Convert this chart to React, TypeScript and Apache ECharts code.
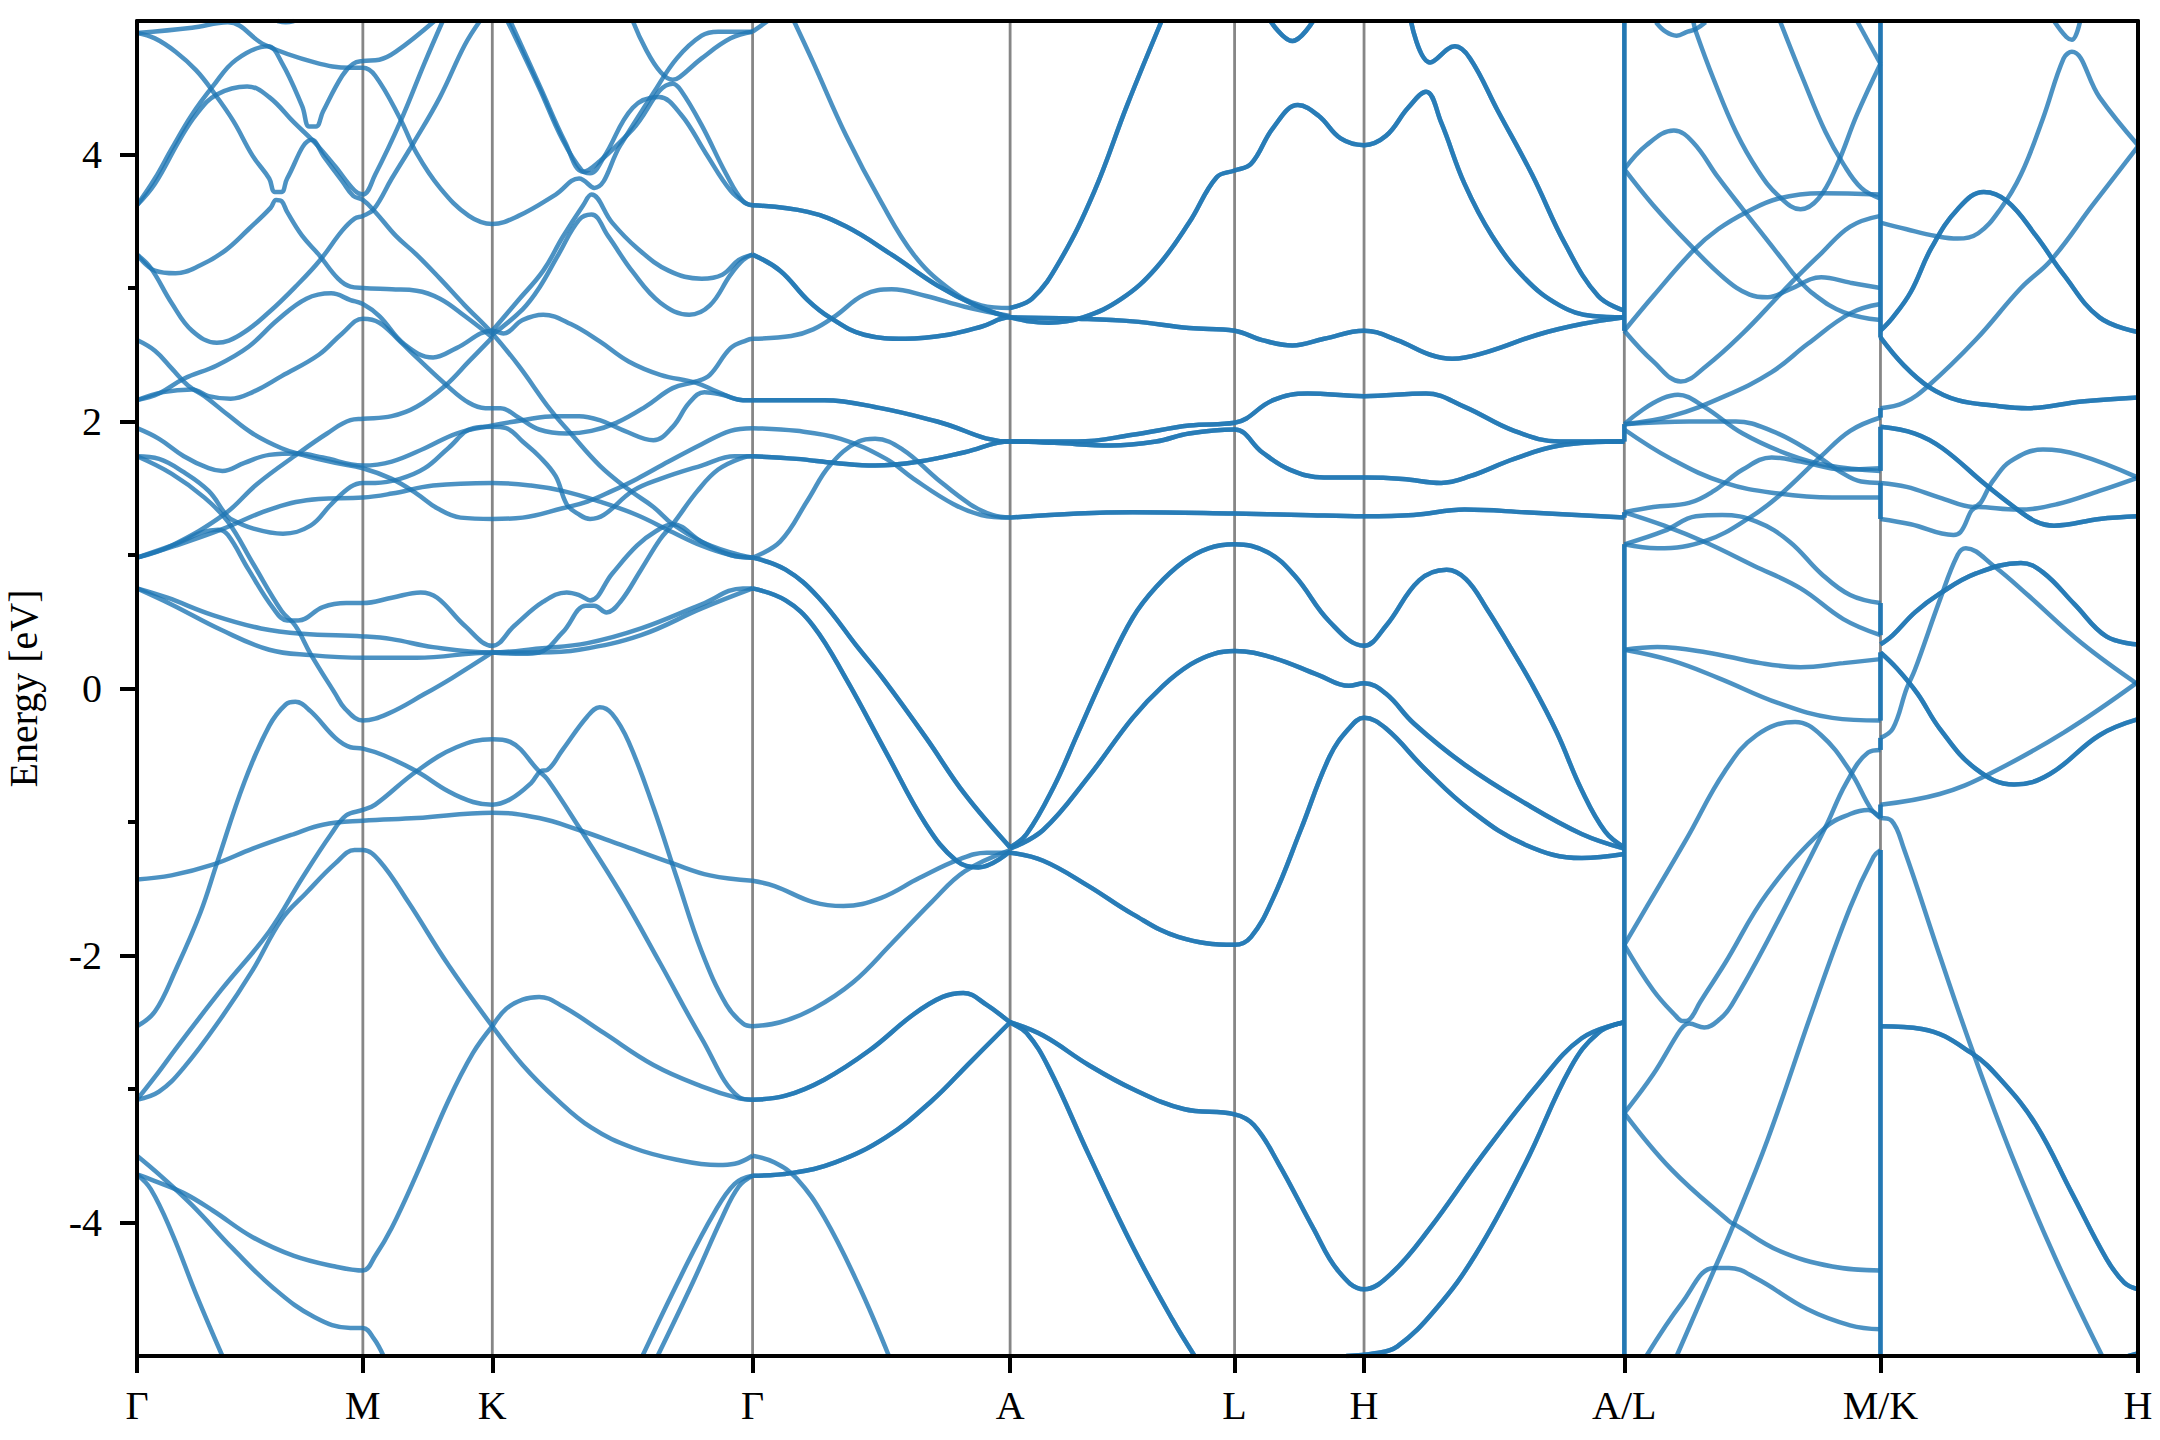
import React, { useEffect, useRef } from "react";
import * as echarts from "echarts";

type Pt = [number, number];

const kPoints = [0, 164, 258, 447, 634, 797, 891, 1080, 1266, 1453];
const kNames = ["Γ", "M", "K", "Γ", "A", "L", "H", "A/L", "M/K", "H"];
const majorTicks = [-4, -2, 0, 2, 4];
const minorTicks = [-3, -1, 1, 3];

// Γ–M–K–Γ
const a1: Pt[] = [[0,4.91],[40,4.95],[66,4.99],[93,4.82],[129,4.69],[155,4.65],[164,4.65],[173,4.59],[191,4.27],[203,4.01],[220,3.75],[241,3.54],[258,3.48],[277,3.54],[304,3.70],[321,3.82],[332,3.75],[351,4.07],[375,4.46],[392,4.72],[410,4.89],[422,4.92],[447,4.92]];
const a2: Pt[] = [[0,3.62],[13,3.82],[25,4.04],[40,4.30],[55,4.51],[72,4.71],[95,4.81],[105,4.69],[120,4.36],[125,4.21],[130,4.21],[135,4.32],[149,4.59],[157,4.68],[164,4.70],[176,4.71],[188,4.77],[216,5.0]];
const a3: Pt[] = [[0,4.91],[13,4.87],[28,4.77],[43,4.63],[56,4.46],[70,4.25],[84,3.99],[96,3.82],[100,3.72],[105,3.72],[109,3.82],[127,4.11],[136,3.98],[149,3.80],[157,3.69],[164,3.66],[173,3.57],[188,3.39],[203,3.25],[220,3.07],[238,2.87],[258,2.66],[277,2.42],[300,2.09],[315,1.91],[336,1.67],[357,1.49],[375,1.36],[389,1.23],[410,1.10],[431,1.02],[447,0.98]];
const a4: Pt[] = [[0,3.62],[13,3.78],[31,4.11],[43,4.30],[58,4.45],[80,4.51],[96,4.43],[114,4.24],[129,4.09],[144,3.91],[158,3.73],[164,3.70],[173,3.85],[191,4.24],[209,4.69],[222,5.0]];
const a5: Pt[] = [[0,3.25],[13,3.13],[28,3.11],[46,3.17],[64,3.28],[81,3.44],[97,3.60],[101,3.66],[105,3.65],[109,3.57],[120,3.39],[132,3.25],[146,3.07],[155,3.01],[164,3.00],[185,2.99],[203,2.98],[220,2.92],[238,2.79],[258,2.63]];
const a6: Pt[] = [[258,2.68],[277,2.91],[295,3.13],[309,3.38],[324,3.62],[330,3.70],[345,3.49],[363,3.30],[386,3.13],[410,3.07],[425,3.10],[437,3.21],[447,3.25]];
const a7: Pt[] = [[258,2.65],[280,2.84],[292,3.0],[306,3.25],[321,3.51],[330,3.55],[342,3.39],[360,3.12],[380,2.89],[401,2.8],[416,2.87],[431,3.10],[440,3.21],[447,3.25]];
const a8: Pt[] = [[0,3.25],[10,3.15],[25,2.89],[40,2.68],[58,2.59],[75,2.65],[96,2.82],[117,3.03],[133,3.21],[149,3.43],[158,3.52],[164,3.54],[172,3.59],[185,3.82],[201,4.09],[220,4.43],[238,4.82],[249,5.0]];
const a9: Pt[] = [[0,2.61],[13,2.53],[25,2.40],[37,2.27],[49,2.19],[66,2.05],[84,1.91],[105,1.80],[120,1.75],[144,1.69],[164,1.65],[185,1.57],[203,1.46],[218,1.35],[235,1.28],[258,1.27],[280,1.28],[309,1.35],[327,1.40],[345,1.48],[363,1.57],[386,1.70],[410,1.83],[431,1.93],[447,1.95]];
const a10: Pt[] = [[0,2.16],[19,2.22],[40,2.24],[52,2.19],[68,2.17],[84,2.22],[105,2.34],[132,2.50],[149,2.66],[164,2.77],[176,2.74],[191,2.60],[203,2.48],[225,2.27],[241,2.14],[253,2.10],[264,2.10],[277,2.03],[292,1.94],[312,1.91],[330,1.93],[348,1.99],[369,2.11],[389,2.25],[406,2.30],[416,2.35],[431,2.55],[443,2.61],[447,2.62]];
const a11: Pt[] = [[0,2.16],[16,2.21],[34,2.32],[58,2.42],[81,2.56],[102,2.76],[123,2.92],[141,2.96],[155,2.91],[164,2.88],[176,2.79],[194,2.58],[215,2.48],[232,2.55],[258,2.68],[266,2.66],[280,2.76],[295,2.8],[315,2.73],[336,2.60],[357,2.45],[380,2.35],[406,2.29],[422,2.22],[440,2.16],[447,2.16]];
const a12: Pt[] = [[0,1.95],[16,1.87],[34,1.74],[52,1.65],[62,1.63],[78,1.69],[96,1.75],[117,1.76],[135,1.73],[164,1.67],[185,1.70],[209,1.8],[232,1.91],[258,1.97],[280,2.01],[304,2.04],[321,2.04],[336,2.01],[354,1.93],[375,1.86],[389,1.96],[401,2.14],[412,2.22],[425,2.2],[440,2.16],[447,2.16]];
const a13: Pt[] = [[0,1.74],[16,1.72],[34,1.62],[52,1.48],[64,1.31],[68,1.27],[84,1.20],[106,1.16],[126,1.22],[141,1.38],[155,1.51],[164,1.54],[173,1.54],[191,1.57],[209,1.65],[226,1.80],[244,1.95],[258,1.96],[268,1.95],[280,1.85],[292,1.74],[304,1.59],[312,1.38],[320,1.31],[329,1.27],[339,1.30],[360,1.48],[380,1.57],[410,1.67],[434,1.74],[447,1.74]];
const a14: Pt[] = [[0,0.98],[25,1.07],[64,1.31],[87,1.53],[117,1.76],[138,1.91],[155,2.01],[164,2.02],[185,2.04],[203,2.11],[224,2.27],[241,2.45],[258,2.63]];
const a15: Pt[] = [[0,1.74],[25,1.61],[49,1.43],[66,1.25],[84,0.94],[105,0.58],[115,0.47],[126,0.26],[144,-0.04],[151,-0.15],[164,-0.24],[182,-0.19],[209,-0.04],[229,0.08],[258,0.27]];
const a16: Pt[] = [[0,0.98],[25,1.07],[59,1.19],[66,1.15],[81,0.89],[99,0.6],[109,0.51],[117,0.51],[135,0.61],[152,0.64],[164,0.64],[185,0.68],[206,0.72],[218,0.68],[238,0.47],[258,0.32],[274,0.47],[295,0.65],[312,0.72],[321,0.70],[329,0.66],[345,0.86],[363,1.07],[377,1.18],[389,1.23],[410,1.10],[431,1.0],[447,0.98]];
const a17: Pt[] = [[258,0.27],[280,0.26],[292,0.27],[309,0.42],[326,0.62],[332,0.62],[341,0.57],[351,0.65],[366,0.89],[380,1.12],[389,1.23],[407,1.48],[422,1.64],[440,1.73],[447,1.74]];
const a18: Pt[] = [[0,0.98],[28,1.07],[61,1.19],[99,1.35],[132,1.42],[164,1.43],[185,1.46],[215,1.52],[258,1.54],[286,1.52],[309,1.48],[336,1.40],[363,1.30],[389,1.17],[410,1.07],[431,1.0],[447,0.98]];
const a19: Pt[] = [[0,0.75],[22,0.68],[55,0.55],[90,0.45],[120,0.41],[164,0.39],[185,0.37],[215,0.31],[258,0.27],[292,0.30],[327,0.34],[366,0.45],[410,0.63],[440,0.75],[447,0.75]];
const a20: Pt[] = [[0,0.75],[25,0.63],[61,0.44],[96,0.29],[126,0.25],[164,0.23],[203,0.23],[258,0.27],[292,0.27],[321,0.29],[366,0.40],[410,0.6],[447,0.75]];
const a21: Pt[] = [[0,-2.53],[13,-2.42],[28,-2.11],[46,-1.68],[58,-1.31],[78,-0.70],[96,-0.28],[108,-0.12],[115,-0.10],[126,-0.17],[144,-0.37],[155,-0.44],[164,-0.45],[179,-0.50],[203,-0.62],[226,-0.77],[244,-0.85],[258,-0.87],[271,-0.83],[286,-0.71],[293,-0.62],[298,-0.61],[309,-0.46],[327,-0.21],[336,-0.14],[345,-0.19],[357,-0.40],[375,-0.89],[392,-1.42],[410,-1.97],[428,-2.37],[440,-2.51],[447,-2.53]];
const a22: Pt[] = [[0,-1.43],[25,-1.40],[55,-1.32],[84,-1.20],[114,-1.09],[135,-1.02],[164,-0.99],[203,-0.97],[258,-0.93],[292,-0.97],[321,-1.06],[351,-1.17],[389,-1.31],[416,-1.40],[447,-1.44]];
const a23: Pt[] = [[0,-3.08],[13,-2.91],[31,-2.66],[61,-2.26],[96,-1.82],[120,-1.42],[141,-1.09],[152,-0.95],[164,-0.91],[173,-0.87],[203,-0.62],[232,-0.44],[258,-0.38],[271,-0.40],[292,-0.62],[298,-0.68],[321,-1.04],[351,-1.53],[380,-2.06],[410,-2.62],[437,-3.06],[447,-3.08]];
const a24: Pt[] = [[0,-3.08],[16,-3.02],[34,-2.84],[61,-2.47],[84,-2.11],[105,-1.73],[123,-1.53],[144,-1.31],[158,-1.21],[164,-1.21],[176,-1.29],[197,-1.60],[226,-2.07],[258,-2.53],[280,-2.82],[304,-3.07],[330,-3.29],[360,-3.44],[392,-3.53],[422,-3.57],[434,-3.56],[447,-3.50]];
const a25: Pt[] = [[258,-2.53],[268,-2.40],[280,-2.33],[292,-2.31],[309,-2.38],[339,-2.58],[375,-2.82],[410,-2.98],[437,-3.07],[447,-3.08]];
const a26: Pt[] = [[0,-3.64],[13,-3.69],[34,-3.78],[55,-3.91],[84,-4.11],[114,-4.25],[144,-4.33],[164,-4.36],[173,-4.25],[185,-4.04],[203,-3.64],[226,-3.09],[244,-2.73],[258,-2.53]];
const a27: Pt[] = [[0,-3.50],[16,-3.64],[40,-3.87],[70,-4.20],[99,-4.49],[129,-4.71],[155,-4.79],[164,-4.79],[172,-4.87],[179,-5.0]];
const a28: Pt[] = [[0,-3.64],[10,-3.75],[25,-4.07],[43,-4.54],[62,-5.0]];
const a29: Pt[] = [[367,-5],[395,-4.40],[419,-3.93],[434,-3.71],[447,-3.65]];
const a30: Pt[] = [[378,-5],[404,-4.44],[425,-3.96],[437,-3.73],[447,-3.65]];
const a31: Pt[] = [[269,5.0],[292,4.50],[309,4.11],[323,3.88],[329,3.86],[339,3.98],[360,4.35],[379,4.43],[395,4.30],[413,4.01],[431,3.73],[443,3.63],[447,3.62]];
const a32: Pt[] = [[271,5],[293,4.5],[311,4.09],[324,3.87],[336,3.95],[360,4.19],[389,4.53],[395,4.48],[410,4.22],[428,3.85],[440,3.65],[447,3.62]];
const a33: Pt[] = [[360,5],[389,4.56],[394,4.58],[410,4.72],[431,4.87],[447,4.92]];
const a34: Pt[] = [[102,5.0],[108,4.99],[114,5]];

// Γ–A–L–H–A, single lines
const b1: Pt[] = [[447,4.92],[458,5.0]];
const b2: Pt[] = [[477,5.0],[491,4.69],[515,4.14],[540,3.65],[564,3.25],[589,3.0],[613,2.87],[634,2.85]];
const b3: Pt[] = [[447,2.62],[475,2.64],[491,2.69],[507,2.79],[528,2.95],[548,2.99],[573,2.94],[601,2.86],[634,2.79]];
const b4: Pt[] = [[447,1.95],[479,1.93],[511,1.87],[544,1.72],[564,1.57],[593,1.38],[613,1.30],[634,1.28]];
const b5: Pt[] = [[447,0.98],[467,1.10],[487,1.41],[503,1.67],[524,1.85],[536,1.87],[556,1.79],[581,1.57],[605,1.38],[621,1.30],[634,1.28]];
const b6: Pt[] = [[447,-1.44],[463,-1.48],[491,-1.60],[513,-1.63],[540,-1.57],[568,-1.42],[597,-1.28],[617,-1.23],[634,-1.23]];
const b7: Pt[] = [[447,-2.53],[467,-2.50],[491,-2.40],[520,-2.20],[548,-1.91],[577,-1.60],[601,-1.37],[634,-1.21]];
const b8: Pt[] = [[447,-3.50],[463,-3.55],[479,-3.67],[499,-3.96],[524,-4.47],[546,-5.0]];

// Γ–A–L–H–A, lines that lie on top of each other
const c1: Pt[] = [[634,2.85],[650,2.92],[670,3.2],[695,3.72],[719,4.37],[744,5]];
const c2: Pt[] = [[447,3.62],[487,3.57],[515,3.46],[548,3.25],[581,3.02],[609,2.87],[634,2.78],[662,2.74],[687,2.78],[715,2.92],[740,3.15],[764,3.49],[784,3.83],[797,3.88],[809,3.93],[825,4.2],[843,4.37],[858,4.29],[874,4.12],[891,4.07],[907,4.14],[923,4.35],[936,4.47],[947,4.24],[964,3.78],[984,3.39],[1008,3.07],[1033,2.87],[1057,2.79],[1080,2.78]];
const c3: Pt[] = [[447,3.25],[467,3.13],[487,2.91],[503,2.78],[528,2.65],[558,2.62],[589,2.65],[613,2.71],[634,2.78],[683,2.77],[723,2.75],[764,2.70],[797,2.68],[817,2.61],[839,2.57],[862,2.62],[891,2.68],[915,2.61],[939,2.50],[955,2.47],[980,2.52],[1017,2.65],[1049,2.73],[1080,2.78]];
const c4: Pt[] = [[823,5],[839,4.85],[854,5]];
const c5: Pt[] = [[925,5],[939,4.69],[957,4.81],[968,4.72],[988,4.33],[1013,3.85],[1037,3.33],[1061,2.94],[1080,2.83]];
const c6: Pt[] = [[447,2.16],[499,2.16],[540,2.10],[581,2.0],[634,1.85],[683,1.85],[723,1.90],[764,1.97],[797,1.99],[825,2.16],[850,2.21],[891,2.19],[936,2.21],[964,2.11],[1000,1.93],[1033,1.85],[1080,1.85]];
const c7: Pt[] = [[447,1.74],[479,1.72],[507,1.69],[536,1.67],[568,1.70],[601,1.77],[634,1.85],[666,1.84],[707,1.82],[740,1.85],[764,1.91],[797,1.94],[817,1.77],[837,1.64],[862,1.58],[891,1.58],[919,1.57],[947,1.54],[968,1.59],[1000,1.72],[1033,1.82],[1080,1.85]];
const c8: Pt[] = [[634,1.28],[683,1.31],[723,1.32],[797,1.31],[845,1.30],[891,1.29],[927,1.30],[964,1.34],[1008,1.32],[1080,1.28]];
const c9: Pt[] = [[447,0.98],[471,0.89],[495,0.68],[524,0.30],[542,0.07],[573,-0.37],[601,-0.79],[634,-1.19]];
const c10: Pt[] = [[447,0.75],[471,0.66],[491,0.47],[515,0.07],[544,-0.48],[573,-1.02],[595,-1.29],[611,-1.34],[634,-1.22]];
const c11: Pt[] = [[634,-1.19],[646,-1.09],[666,-0.73],[683,-0.34],[703,0.12],[723,0.53],[740,0.76],[760,0.95],[778,1.05],[797,1.08],[821,1.02],[841,0.84],[866,0.50],[891,0.32],[907,0.47],[931,0.81],[951,0.89],[965,0.82],[980,0.60],[996,0.33],[1013,0.03],[1031,-0.33],[1049,-0.76],[1066,-1.07],[1080,-1.19]];
const c12: Pt[] = [[634,-1.20],[658,-1.06],[691,-0.66],[723,-0.22],[745,0.02],[765,0.18],[782,0.26],[797,0.28],[825,0.23],[858,0.10],[880,0.02],[891,0.04],[907,-0.04],[927,-0.26],[964,-0.57],[1008,-0.86],[1049,-1.09],[1080,-1.20]];
const c13: Pt[] = [[634,-1.23],[658,-1.29],[691,-1.48],[723,-1.69],[756,-1.86],[797,-1.92],[809,-1.86],[825,-1.57],[845,-1.06],[866,-0.51],[880,-0.30],[891,-0.22],[907,-0.30],[935,-0.60],[968,-0.91],[1008,-1.17],[1049,-1.27],[1080,-1.24]];
const c14: Pt[] = [[447,-3.08],[471,-3.05],[499,-2.93],[532,-2.71],[564,-2.44],[585,-2.31],[600,-2.28],[617,-2.37],[634,-2.50],[646,-2.58],[662,-2.84],[691,-3.49],[723,-4.18],[752,-4.73],[768,-5.0]];
const c15: Pt[] = [[447,-3.65],[475,-3.63],[507,-3.55],[544,-3.36],[577,-3.09],[605,-2.80],[634,-2.50]];
const c16: Pt[] = [[634,-2.50],[658,-2.60],[691,-2.82],[723,-3.0],[760,-3.15],[797,-3.19],[811,-3.27],[829,-3.56],[854,-4.04],[872,-4.36],[891,-4.50],[911,-4.38],[939,-4.04],[976,-3.51],[1017,-2.97],[1049,-2.62],[1080,-2.50]];
const c17: Pt[] = [[878,-5],[899,-4.98],[915,-4.93],[943,-4.65],[972,-4.24],[1008,-3.56],[1041,-2.84],[1061,-2.58],[1080,-2.50]];

// A/L–M/K
const d1: Pt[] = [[1103,4.99],[1110,4.92],[1118,4.89],[1126,4.92],[1132,4.94],[1139,4.99]];
const d2: Pt[] = [[1130,5],[1132,4.92],[1145,4.56],[1161,4.17],[1177,3.88],[1192,3.69],[1208,3.59],[1221,3.67],[1234,3.91],[1249,4.30],[1266,4.68]];
const d3: Pt[] = [[1193,5],[1210,4.56],[1226,4.17],[1239,3.93],[1252,3.75],[1266,3.67]];
const d4: Pt[] = [[1249,5],[1266,4.68]];
const d5: Pt[] = [[1080,3.89],[1096,4.07],[1116,4.18],[1130,4.09],[1148,3.83],[1166,3.59],[1179,3.42],[1195,3.21],[1205,3.08],[1218,2.95],[1239,2.82],[1266,2.76]];
const d6: Pt[] = [[1080,3.89],[1101,3.62],[1127,3.33],[1153,3.07],[1171,2.95],[1184,2.93],[1200,2.99],[1223,3.08],[1244,3.04],[1266,3.0]];
const d7: Pt[] = [[1080,2.68],[1101,2.94],[1130,3.28],[1148,3.44],[1169,3.57],[1192,3.67],[1223,3.71],[1266,3.70]];
const d8: Pt[] = [[1080,2.68],[1101,2.45],[1121,2.30],[1140,2.42],[1166,2.66],[1192,2.94],[1205,3.08],[1223,3.26],[1244,3.46],[1266,3.54]];
const d9: Pt[] = [[1080,1.98],[1119,2.20],[1138,2.11],[1166,1.91],[1200,1.75],[1228,1.67],[1266,1.63]];
const d10: Pt[] = [[1080,1.98],[1114,2.04],[1153,2.19],[1187,2.37],[1213,2.58],[1244,2.81],[1266,2.88]];
const d11: Pt[] = [[1080,1.98],[1127,2.0],[1161,2.0],[1187,1.93],[1213,1.79],[1239,1.61],[1252,1.55],[1266,1.54]];
const d12: Pt[] = [[1080,1.94],[1114,1.72],[1153,1.54],[1192,1.46],[1231,1.43],[1266,1.43]];
const d13: Pt[] = [[1080,1.32],[1101,1.36],[1127,1.39],[1145,1.48],[1166,1.64],[1187,1.73],[1208,1.70],[1239,1.64],[1266,1.65]];
const d14: Pt[] = [[1080,1.32],[1109,1.22],[1140,1.09],[1174,0.92],[1208,0.75],[1239,0.52],[1266,0.40]];
const d15: Pt[] = [[1080,1.08],[1109,1.18],[1132,1.29],[1151,1.30],[1176,1.25],[1200,1.10],[1223,0.86],[1244,0.70],[1266,0.64]];
const d16: Pt[] = [[1080,1.08],[1104,1.05],[1140,1.11],[1171,1.28],[1192,1.44],[1223,1.74],[1244,1.93],[1266,2.03]];
const d17: Pt[] = [[1080,0.29],[1104,0.31],[1140,0.27],[1179,0.19],[1208,0.16],[1239,0.19],[1266,0.22]];
const d18: Pt[] = [[1080,0.29],[1114,0.21],[1148,0.08],[1192,-0.11],[1231,-0.22],[1266,-0.24]];
const d19: Pt[] = [[1080,-1.92],[1096,-1.64],[1125,-1.13],[1153,-0.62],[1176,-0.35],[1204,-0.25],[1223,-0.35],[1244,-0.62],[1259,-0.90],[1266,-0.97]];
const d20: Pt[] = [[1080,-1.92],[1101,-2.26],[1118,-2.46],[1122,-2.49],[1125,-2.49],[1129,-2.46],[1135,-2.35],[1153,-2.06],[1184,-1.53],[1226,-1.04],[1244,-0.94],[1257,-0.91],[1266,-0.97]];
const d21: Pt[] = [[1080,-3.18],[1101,-2.89],[1118,-2.60],[1123,-2.53],[1127,-2.51],[1138,-2.54],[1150,-2.47],[1158,-2.37],[1184,-1.89],[1226,-1.04],[1241,-0.71],[1257,-0.48],[1266,-0.46]];
const d22: Pt[] = [[1080,-3.18],[1114,-3.60],[1156,-3.99],[1161,-4.02],[1192,-4.21],[1231,-4.33],[1266,-4.36]];
const d23: Pt[] = [[1096,-5],[1122,-4.60],[1145,-4.34],[1156,-4.34],[1176,-4.42],[1213,-4.65],[1244,-4.77],[1266,-4.80]];
const d24: Pt[] = [[1118,-5],[1145,-4.36],[1158,-4.05],[1184,-3.38],[1218,-2.37],[1244,-1.64],[1261,-1.26],[1266,-1.21]];

// M/K–H
const e1: Pt[] = [[1266,3.49],[1285,3.44],[1306,3.39],[1322,3.37],[1337,3.41],[1353,3.59],[1368,3.85],[1384,4.27],[1399,4.72],[1405,4.77],[1425,4.43],[1453,4.07]];
const e2: Pt[] = [[1392,5],[1401,4.88],[1405,4.86],[1411,5]];
const e3: Pt[] = [[1266,2.10],[1283,2.14],[1301,2.27],[1335,2.61],[1368,3.0],[1390,3.21],[1420,3.62],[1453,4.06]];
const e4: Pt[] = [[1266,1.54],[1285,1.51],[1309,1.43],[1333,1.36],[1348,1.56],[1360,1.70],[1384,1.79],[1410,1.75],[1453,1.58]];
const e5: Pt[] = [[1266,1.27],[1288,1.23],[1319,1.15],[1324,1.17],[1337,1.36],[1366,1.34],[1394,1.38],[1425,1.48],[1453,1.58]];
const e6: Pt[] = [[1266,-0.37],[1275,-0.30],[1285,0.0],[1291,0.14],[1309,0.66],[1322,1.0],[1328,1.05],[1348,0.92],[1373,0.70],[1412,0.34],[1453,0.03]];
const e7: Pt[] = [[1266,-0.87],[1309,-0.79],[1345,-0.64],[1399,-0.33],[1453,0.05]];
const e8: Pt[] = [[1266,-0.97],[1274,-0.99],[1283,-1.20],[1309,-2.0],[1332,-2.69],[1361,-3.49],[1394,-4.29],[1427,-5]];
const f1: Pt[] = [[1266,2.68],[1275,2.78],[1288,2.97],[1303,3.30],[1322,3.59],[1341,3.72],[1358,3.65],[1379,3.39],[1399,3.10],[1425,2.78],[1453,2.67]];
const f2: Pt[] = [[1266,2.63],[1283,2.42],[1301,2.26],[1322,2.16],[1348,2.12],[1373,2.10],[1412,2.15],[1453,2.18]];
const f3: Pt[] = [[1266,1.96],[1291,1.91],[1311,1.80],[1342,1.53],[1363,1.36],[1379,1.25],[1392,1.22],[1425,1.27],[1453,1.29]];
const f4: Pt[] = [[1266,0.33],[1275,0.40],[1291,0.57],[1309,0.71],[1335,0.86],[1368,0.94],[1384,0.87],[1407,0.63],[1430,0.39],[1453,0.33]];
const f5: Pt[] = [[1266,0.27],[1278,0.15],[1293,-0.04],[1309,-0.30],[1335,-0.60],[1363,-0.72],[1389,-0.64],[1425,-0.35],[1453,-0.23]];
const f6: Pt[] = [[1266,-2.53],[1296,-2.55],[1332,-2.73],[1355,-2.95],[1379,-3.27],[1405,-3.78],[1430,-4.27],[1443,-4.45],[1453,-4.50]];
const f7: Pt[] = [[1446,-5],[1453,-4.98]];

// Energy jumps where the path is broken
const jumpsAL: Pt[] = [[5, 2.68], [1.98, 1.85], [1.32, 1.28], [1.08, -5]];
const jumpsMK: Pt[] = [[5, 2.63], [2.10, 2.03], [1.96, 1.63], [1.54, 1.27], [0.64, 0.40], [0.27, -0.24], [-0.37, -0.46], [-0.87, -0.97], [-1.21, -5]];

const singleBands: Pt[][] = [
  a1,a2,a3,a4,a5,a6,a7,a8,a9,a10,a11,a12,a13,a14,a15,a16,a17,a18,a19,a20,a21,a22,a23,a24,a25,a26,a27,a28,a29,a30,a31,a32,a33,a34,
  b1,b2,b3,b4,b5,b6,b7,b8,
  d1,d2,d3,d4,d5,d6,d7,d8,d9,d10,d11,d12,d13,d14,d15,d16,d17,d18,d19,d20,d21,d22,d23,d24,
  e1,e2,e3,e4,e5,e6,e7,e8,
];
const doubledBands: Pt[][] = [c1,c2,c3,c4,c5,c6,c7,c8,c9,c10,c11,c12,c13,c14,c15,c16,c17,f1,f2,f3,f4,f5,f6,f7];

const FONT = "Liberation Serif";
const BLUE = "#1f77b4";

function bandSeries(data: Pt[], smooth: number | boolean) {
  return {
    type: "line",
    data,
    showSymbol: false,
    smooth,
    animation: false,
    silent: true,
    z: 3,
    lineStyle: { color: BLUE, width: 4.5, opacity: 0.8 },
  };
}

export default function App() {
  const ref = useRef<HTMLDivElement>(null);
  useEffect(() => {
    if (!ref.current) return;
    const chart = echarts.init(ref.current, undefined, { renderer: "svg" });
    const guides = kPoints.slice(1, -1).map((k) => ({
      type: "line",
      data: [[k, -5], [k, 5]],
      showSymbol: false,
      silent: true,
      z: 2,
      lineStyle: { color: "#808080", width: 2.8, opacity: 0.95 },
    }));
    const jumps = [
      ...jumpsAL.map(([a, b]) => [[kPoints[7], a], [kPoints[7], b]] as Pt[]),
      ...jumpsMK.map(([a, b]) => [[kPoints[8], a], [kPoints[8], b]] as Pt[]),
    ];
    const series = [
      ...guides,
      ...singleBands.map((b) => bandSeries(b, 0.4)),
      ...doubledBands.map((b) => bandSeries(b, 0.4)),
      ...doubledBands.map((b) => bandSeries(b, 0.4)),
      ...jumps.map((b) => bandSeries(b, false)),
      ...jumps.map((b) => bandSeries(b, false)),
    ];
    const axisLine = { show: true, onZero: false, lineStyle: { color: "#000", width: 4 } };
    chart.setOption({
      animation: false,
      backgroundColor: "#fff",
      grid: { left: 137, right: 22, top: 21, bottom: 84, containLabel: false, outerBoundsMode: "none" },
      xAxis: [
        {
          type: "value",
          min: kPoints[0],
          max: kPoints[kPoints.length - 1],
          position: "bottom",
          z: 10,
          axisLine,
          splitLine: { show: false },
          axisTick: { show: true, length: 17, customValues: kPoints, lineStyle: { color: "#000", width: 4 } },
          axisLabel: {
            show: true,
            customValues: kPoints,
            formatter: (v: number) => kNames[kPoints.indexOf(v)] ?? "",
            fontFamily: FONT,
            fontSize: 40,
            color: "#000",
            margin: 29,
          },
        },
        {
          type: "value",
          min: kPoints[0],
          max: kPoints[kPoints.length - 1],
          position: "top",
          z: 10,
          axisLine,
          splitLine: { show: false },
          axisTick: { show: false },
          axisLabel: { show: false },
        },
      ],
      yAxis: [
        {
          type: "value",
          min: -5,
          max: 5,
          interval: 1,
          position: "left",
          z: 10,
          name: "Energy [eV]",
          nameLocation: "middle",
          nameRotate: 90,
          nameGap: 94,
          nameTextStyle: { fontFamily: FONT, fontSize: 40, color: "#000" },
          axisLine,
          splitLine: { show: false },
          axisTick: { show: true, length: 17, customValues: majorTicks, lineStyle: { color: "#000", width: 4 } },
          axisLabel: {
            show: true,
            customValues: majorTicks,
            formatter: (v: number) => String(v),
            fontFamily: FONT,
            fontSize: 40,
            color: "#000",
            margin: 35,
          },
        },
        {
          type: "value",
          min: -5,
          max: 5,
          interval: 1,
          position: "left",
          z: 10,
          axisLine: { show: false },
          splitLine: { show: false },
          axisTick: { show: true, length: 9, customValues: minorTicks, lineStyle: { color: "#000", width: 4 } },
          axisLabel: { show: false },
        },
        {
          type: "value",
          min: -5,
          max: 5,
          interval: 1,
          position: "right",
          z: 10,
          axisLine,
          splitLine: { show: false },
          axisTick: { show: false },
          axisLabel: { show: false },
        },
      ],
      series,
    });
    return () => chart.dispose();
  }, []);
  return (
    <div
      ref={ref}
      style={{ position: "fixed", left: 0, top: 0, width: 2160, height: 1440, background: "#fff" }}
    />
  );
}
